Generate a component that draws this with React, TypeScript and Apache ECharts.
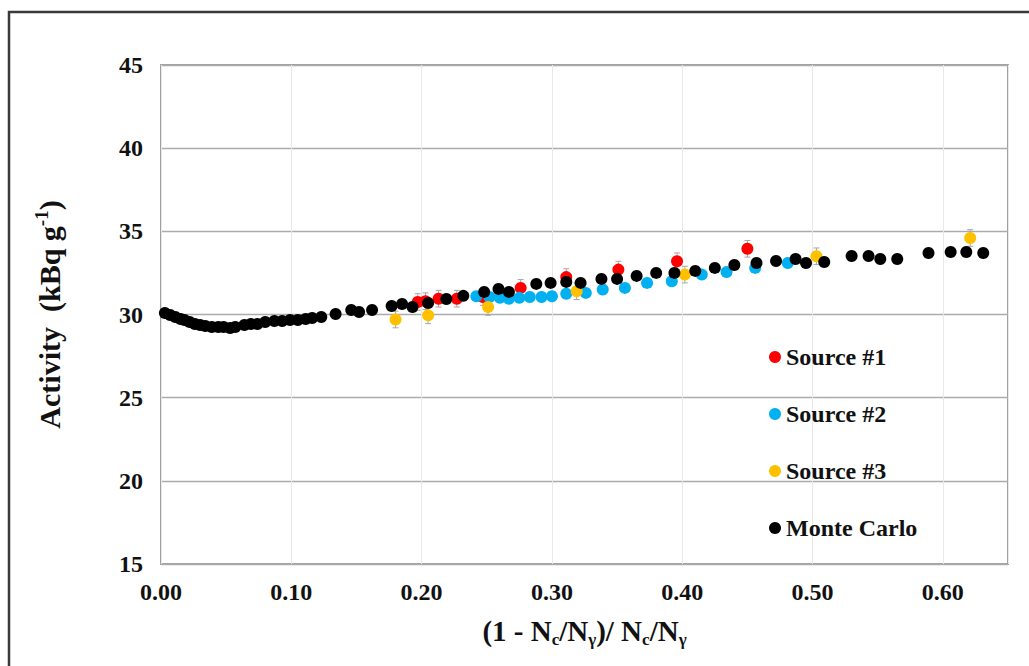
import React, { useEffect, useRef } from "react";
import * as echarts from "echarts";

const seriesNames = ["Source #1", "Source #2", "Source #3", "Monte Carlo"];
const seriesColors = ["#FF0000", "#00B0F0", "#FFC000", "#000000"];

const source1: number[][] = [
  [0.197, 30.75], [0.203, 30.8], [0.213, 30.95], [0.227, 30.95], [0.247, 31.05],
  [0.276, 31.6], [0.311, 32.25], [0.351, 32.7], [0.396, 33.2], [0.45, 33.95],
];
const source2: number[][] = [
  [0.242, 31.1], [0.252, 31.05], [0.26, 31.0], [0.267, 30.95], [0.275, 31.0],
  [0.283, 31.05], [0.292, 31.05], [0.3, 31.1], [0.311, 31.25], [0.326, 31.3],
  [0.339, 31.5], [0.356, 31.6], [0.373, 31.9], [0.392, 32.0], [0.415, 32.4],
  [0.434, 32.55], [0.456, 32.8], [0.481, 33.1],
];
const source3: number[][] = [
  [0.18, 29.7], [0.205, 29.95], [0.251, 30.45], [0.319, 31.4], [0.402, 32.4],
  [0.503, 33.5], [0.621, 34.6],
];
const monteCarlo: number[][] = [
  [0.003, 30.09], [0.007, 29.97], [0.011, 29.85], [0.015, 29.73], [0.018, 29.67],
  [0.022, 29.55], [0.026, 29.43], [0.03, 29.37], [0.034, 29.31], [0.039, 29.25],
  [0.044, 29.25], [0.048, 29.25], [0.053, 29.19], [0.057, 29.25], [0.064, 29.37],
  [0.069, 29.43], [0.074, 29.43], [0.08, 29.55], [0.087, 29.61], [0.093, 29.61],
  [0.099, 29.67], [0.105, 29.67], [0.111, 29.73], [0.116, 29.79], [0.123, 29.85],
  [0.134, 30.03], [0.146, 30.27], [0.152, 30.15], [0.162, 30.27], [0.177, 30.51],
  [0.185, 30.63], [0.193, 30.45], [0.205, 30.69], [0.219, 30.93], [0.232, 31.12],
  [0.248, 31.36], [0.259, 31.54], [0.267, 31.36], [0.288, 31.84], [0.299, 31.9],
  [0.311, 31.96], [0.322, 31.9], [0.338, 32.14], [0.35, 32.14], [0.365, 32.32],
  [0.38, 32.5], [0.394, 32.5], [0.41, 32.62], [0.425, 32.8], [0.44, 32.98],
  [0.457, 33.1], [0.472, 33.22], [0.487, 33.34], [0.495, 33.1], [0.509, 33.16],
  [0.53, 33.52], [0.543, 33.52], [0.552, 33.34], [0.565, 33.34], [0.589, 33.7],
  [0.606, 33.76], [0.618, 33.76], [0.631, 33.7],
];
const source1Err = 0.5;
const source3Err = 0.5;

const xMin = 0;
const xMax = 0.65;
const xStep = 0.1;
const yMin = 15;
const yMax = 45;
const yStep = 5;

const FONT = "'Liberation Serif', 'Times New Roman', serif";
const TEXT = "#111111";

function errorBars(data: number[][], err: number) {
  return {
    type: "custom",
    silent: true,
    z: 1,
    data: data.map(([x, y]) => [x, y - err, y + err]),
    encode: { x: 0, y: [1, 2] },
    renderItem: (params: any, api: any) => {
      const x = api.value(0);
      const lo = api.coord([x, api.value(1)]);
      const hi = api.coord([x, api.value(2)]);
      const w = 3;
      const style = { stroke: "#a6a6a6", lineWidth: 1 };
      return {
        type: "group",
        children: [
          { type: "line", shape: { x1: lo[0], y1: lo[1], x2: hi[0], y2: hi[1] }, style },
          { type: "line", shape: { x1: hi[0] - w, y1: hi[1], x2: hi[0] + w, y2: hi[1] }, style },
          { type: "line", shape: { x1: lo[0] - w, y1: lo[1], x2: lo[0] + w, y2: lo[1] }, style },
        ],
      };
    },
  };
}

export default function App() {
  const ref = useRef<HTMLDivElement>(null);
  useEffect(() => {
    if (!ref.current) return;
    const chart = echarts.init(ref.current, null, { renderer: "svg" });
    const datasets = [source1, source2, source3, monteCarlo];
    chart.setOption({
      animation: false,
      backgroundColor: "#ffffff",
      grid: {
        left: 161,
        right: 21,
        top: 65,
        bottom: 102,
        show: true,
        borderColor: "#a0a0a0",
        borderWidth: 2,
      },
      graphic: [
        {
          type: "rect",
          shape: { x: 9, y: 12, width: 1100, height: 700 },
          style: { fill: "none", stroke: "#3a3a3a", lineWidth: 2.5 },
          silent: true,
        },
      ],
      legend: {
        orient: "vertical",
        left: 764,
        top: 340,
        itemWidth: 12,
        itemHeight: 12,
        itemGap: 33,
        icon: "circle",
        data: seriesNames,
        textStyle: { fontFamily: FONT, fontWeight: "bold", fontSize: 24, lineHeight: 24, color: TEXT },
      },
      xAxis: {
        type: "value",
        min: xMin,
        max: xMax,
        interval: xStep,
        name: "{m|(1 - N}{s|c}{m|/N}{s|γ}{m|)/ N}{s|c}{m|/N}{s|γ}",
        nameLocation: "middle",
        nameGap: 50,
        nameTextStyle: {
          rich: {
            m: { fontFamily: FONT, fontWeight: "bold", fontSize: 29, lineHeight: 34, color: TEXT },
            s: { fontFamily: FONT, fontWeight: "bold", fontSize: 17, lineHeight: 14, verticalAlign: "bottom", color: TEXT },
          },
        },
        axisLine: { show: false },
        axisTick: { show: false },
        axisLabel: {
          margin: 16,
          showMaxLabel: false,
          fontFamily: FONT,
          fontWeight: "bold",
          fontSize: 24,
          color: TEXT,
          formatter: (v: number) => v.toFixed(2),
        },
        splitLine: { show: true, lineStyle: { color: "#e8e8e8", width: 1 } },
      },
      yAxis: {
        type: "value",
        min: yMin,
        max: yMax,
        interval: yStep,
        name: "{m|Activity  (kBq g}{p|-1}{m|)}",
        nameLocation: "middle",
        nameGap: 95,
        nameRotate: 90,
        nameTextStyle: {
          rich: {
            m: { fontFamily: FONT, fontWeight: "bold", fontSize: 30, lineHeight: 34, color: TEXT },
            p: { fontFamily: FONT, fontWeight: "bold", fontSize: 19, lineHeight: 20, verticalAlign: "top", color: TEXT },
          },
        },
        axisLine: { show: false },
        axisTick: { show: false },
        axisLabel: {
          margin: 18,
          fontFamily: FONT,
          fontWeight: "bold",
          fontSize: 24,
          color: TEXT,
        },
        splitLine: { show: true, lineStyle: { color: "#ababab", width: 1.3 } },
      },
      series: [
        errorBars(source1, source1Err),
        errorBars(source3, source3Err),
        ...seriesNames.map((name, i) => ({
          name,
          type: "scatter",
          z: 2,
          symbol: "circle",
          symbolSize: 12,
          itemStyle: { color: seriesColors[i], opacity: 1 },
          data: datasets[i],
        })),
      ],
    });
    return () => chart.dispose();
  }, []);
  return (
    <div
      ref={ref}
      style={{ position: "fixed", left: 0, top: 0, width: 1029, height: 666 }}
    />
  );
}
